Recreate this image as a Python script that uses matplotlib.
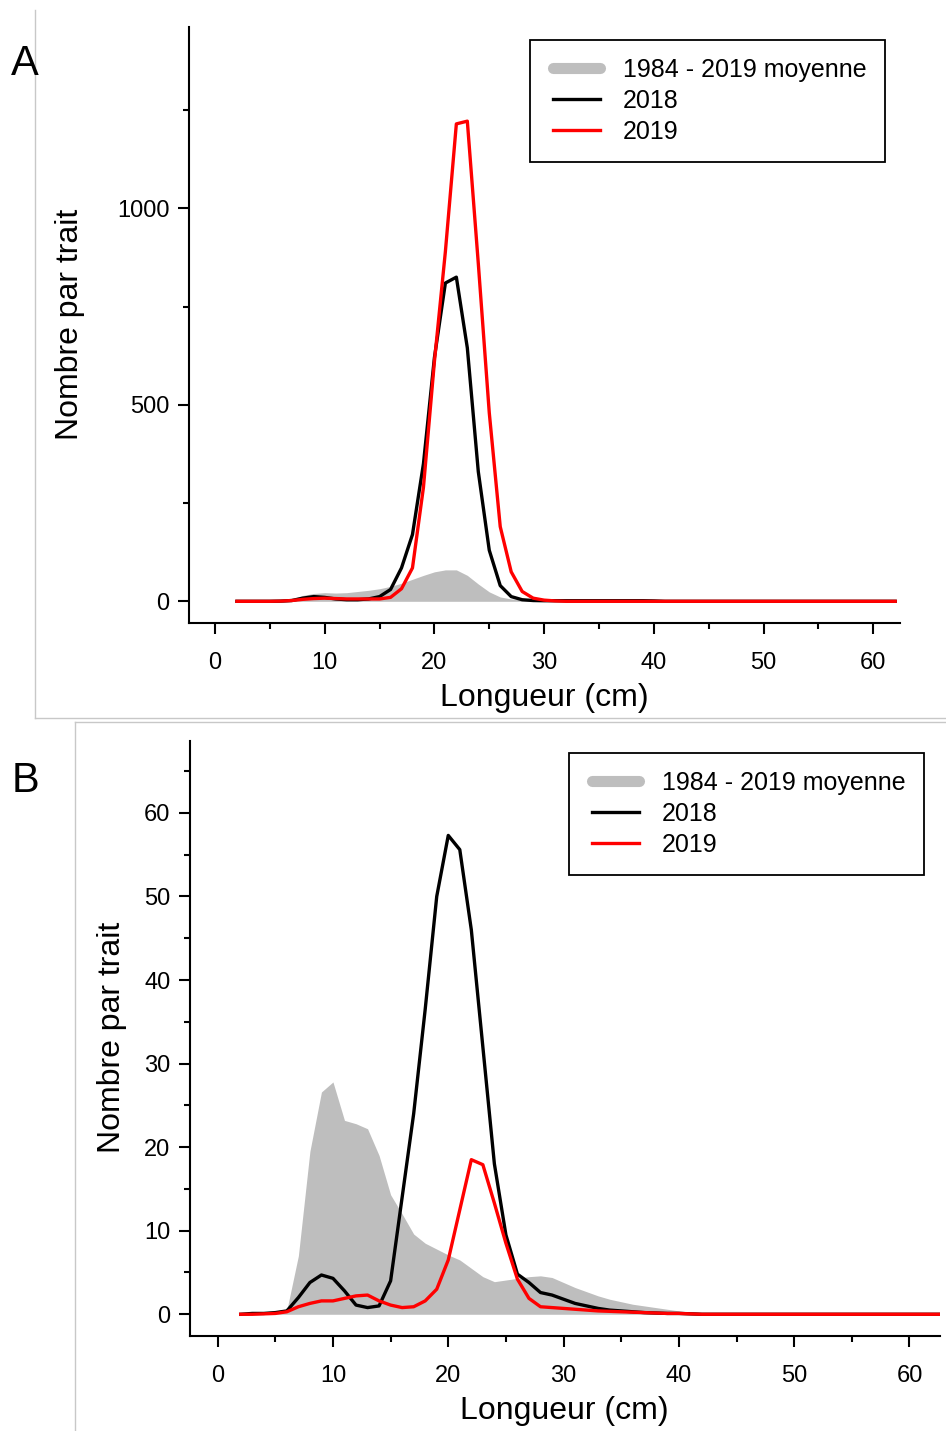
import numpy as np
import matplotlib
matplotlib.use('Agg')
import matplotlib.pyplot as plt
from matplotlib.lines import Line2D
from matplotlib.legend_handler import HandlerLine2D

plt.rcParams['font.family'] = ['Liberation Sans', 'DejaVu Sans']

# ---------------- data ----------------
# Panel A
length_A = list(range(2, 63))
moyenne_A = [0, 0, 0, 0, 1, 6, 15, 20, 22, 21, 22, 25, 28, 32, 38, 46, 56, 66, 75, 80,
             80, 66, 44, 24, 11, 6, 4, 4, 3.5, 3, 3, 3, 2.5, 2.5, 2.5, 2, 2, 2, 2,
             0, 0, 0, 0, 0, 0, 0, 0, 0, 0, 0, 0, 0, 0, 0, 0, 0, 0, 0, 0, 0, 0]
an2018_A = [0, 0, 0, 0, 0.5, 2, 8, 12, 10, 6, 4, 4, 6, 12, 30, 85, 170, 350, 620, 810,
            825, 645, 330, 130, 40, 12, 4, 2, 1.5, 1.5, 1.5, 1.5, 1.5, 1.5, 1.5, 1.5, 1.5, 1.5, 1,
            0, 0, 0, 0, 0, 0, 0, 0, 0, 0, 0, 0, 0, 0, 0, 0, 0, 0, 0, 0, 0, 0]
an2019_A = [0, 0, 0, 0, 0.5, 2, 5, 7, 8, 7, 6, 6, 6, 6, 10, 32, 85, 290, 610, 890,
            1215, 1222, 860, 480, 190, 75, 25, 8, 3, 1, 0, 0, 0, 0, 0, 0, 0, 0, 0,
            0, 0, 0, 0, 0, 0, 0, 0, 0, 0, 0, 0, 0, 0, 0, 0, 0, 0, 0, 0, 0, 0]

# Panel B
length_B = list(range(2, 64))
moyenne_B = [0, 0, 0, 0.1, 0.5, 7, 19.5, 26.6, 27.8, 23.2, 22.8, 22.2, 19, 14.3, 12, 9.6,
             8.5, 7.8, 7.1, 6.5, 5.5, 4.5, 3.9, 4.1, 4.3, 4.5, 4.6, 4.4, 3.8, 3.2, 2.7,
             2.2, 1.8, 1.5, 1.2, 1.0, 0.8, 0.6, 0.4, 0.3, 0.2, 0.1,
             0, 0, 0, 0, 0, 0, 0, 0, 0, 0, 0, 0, 0, 0, 0, 0, 0, 0, 0, 0]
an2018_B = [0, 0.1, 0.1, 0.2, 0.4, 2.0, 3.8, 4.7, 4.3, 2.8, 1.1, 0.8, 1.0, 4.0, 14, 24,
            36.5, 50, 57.3, 55.6, 46, 32, 18, 9.5, 4.8, 3.8, 2.6, 2.3, 1.8, 1.3, 1.0,
            0.7, 0.5, 0.4, 0.3, 0.2, 0.15, 0.1, 0.1, 0.05,
            0, 0, 0, 0, 0, 0, 0, 0, 0, 0, 0, 0, 0, 0, 0, 0, 0, 0, 0, 0, 0, 0]
an2019_B = [0, 0, 0.05, 0.1, 0.3, 0.9, 1.3, 1.6, 1.6, 1.9, 2.2, 2.3, 1.6, 1.1, 0.8, 0.9,
            1.6, 3.0, 6.5, 12.5, 18.5, 17.9, 13.3, 8.5, 4.2, 1.9, 0.9, 0.8, 0.7, 0.6, 0.5,
            0.4, 0.35, 0.3, 0.25, 0.2, 0.15, 0.1, 0.1, 0.05,
            0, 0, 0, 0, 0, 0, 0, 0, 0, 0, 0, 0, 0, 0, 0, 0, 0, 0, 0, 0, 0, 0]

legend_labels = ['1984 - 2019 moyenne', '2018', '2019']
x_major = [0, 10, 20, 30, 40, 50, 60]
x_minor = [5, 15, 25, 35, 45, 55]
yA_major = [0, 500, 1000]
yA_minor = [250, 750, 1250]
yB_major = [0, 10, 20, 30, 40, 50, 60]
yB_minor = [5, 15, 25, 35, 45, 55, 65]

GREY = '#bebebe'
LW = 2.4
W, H = 946, 1431
fig = plt.figure(figsize=(W / 100, H / 100), dpi=100)


def rect(l, t, r, b):
    return [l / W, 1 - b / H, (r - l) / W, (b - t) / H]


def fx(px):
    return px / W


def fy(py):
    return 1 - py / H


def style(ax, xlim, ylim, ymaj, ymin):
    ax.set_xlim(*xlim)
    ax.set_ylim(*ylim)
    for s in ['top', 'right']:
        ax.spines[s].set_visible(False)
    for s in ['left', 'bottom']:
        ax.spines[s].set_linewidth(1.5)
    ax.set_xticks(x_major)
    ax.set_xticks(x_minor, minor=True)
    ax.set_yticks(ymaj)
    ax.set_yticks(ymin, minor=True)
    ax.tick_params(which='major', length=8, width=1.5, labelsize=17, direction='out')
    ax.tick_params(which='minor', length=4, width=1.5, direction='out')
    ax.tick_params(axis='x', which='major', pad=13)
    ax.tick_params(axis='y', which='major', pad=6)


def make_legend(ax, left_px, top_px):
    handles = [Line2D([], [], color=GREY, lw=8, solid_capstyle='round'),
               Line2D([], [], color='black', lw=LW),
               Line2D([], [], color='red', lw=LW)]
    hmap = {h: HandlerLine2D(xpad=0.2) for h in handles}
    leg = ax.legend(handles, legend_labels, loc='upper left',
                    bbox_to_anchor=(fx(left_px), fy(top_px)),
                    bbox_transform=fig.transFigure, borderaxespad=0,
                    fontsize=18, frameon=True, fancybox=False, framealpha=1,
                    edgecolor='black', borderpad=0.72, handlelength=2.08,
                    handletextpad=0.92, labelspacing=0.28, handler_map=hmap)
    leg.get_frame().set_linewidth(1.3)
    return leg


# ---------------- panel borders ----------------
for xs, ys in [([35, 35], [10, 718]), ([35, 946], [718, 718]),
               ([75, 75], [722, 1431]), ([75, 946], [722, 722])]:
    fig.add_artist(Line2D([fx(v) for v in xs], [fy(v) for v in ys],
                          transform=fig.transFigure, color='#c8c8c8', lw=1))

# ---------------- Panel A ----------------
axA = fig.add_axes(rect(189, 27, 900, 623))
axA.fill_between(length_A, 0, moyenne_A, color=GREY, lw=0)
axA.plot(length_A, an2018_A, color='black', lw=LW)
axA.plot(length_A, an2019_A, color='red', lw=LW)
style(axA, (-2.37, 62.44), (-55.2, 1461.6), yA_major, yA_minor)
make_legend(axA, 530, 40)
fig.text(fx(70), fy(324), 'Nombre par trait', rotation=90, ha='center', va='center', fontsize=23)
fig.text(fx(544), fy(698), 'Longueur (cm)', ha='center', va='center', fontsize=23)
fig.text(fx(25), fy(64), 'A', ha='center', va='center', fontsize=30)

# ---------------- Panel B ----------------
axB = fig.add_axes(rect(190, 741, 940, 1336))
axB.fill_between(length_B, 0, moyenne_B, color=GREY, lw=0)
axB.plot(length_B, an2018_B, color='black', lw=LW)
axB.plot(length_B, an2019_B, color='red', lw=LW)
style(axB, (-2.4, 62.65), (-2.6, 68.6), yB_major, yB_minor)
make_legend(axB, 569, 753)
fig.text(fx(112), fy(1037), 'Nombre par trait', rotation=90, ha='center', va='center', fontsize=23)
fig.text(fx(564), fy(1411), 'Longueur (cm)', ha='center', va='center', fontsize=23)
fig.text(fx(25), fy(781), 'B', ha='center', va='center', fontsize=30)

fig.savefig('out.png', dpi=100)
